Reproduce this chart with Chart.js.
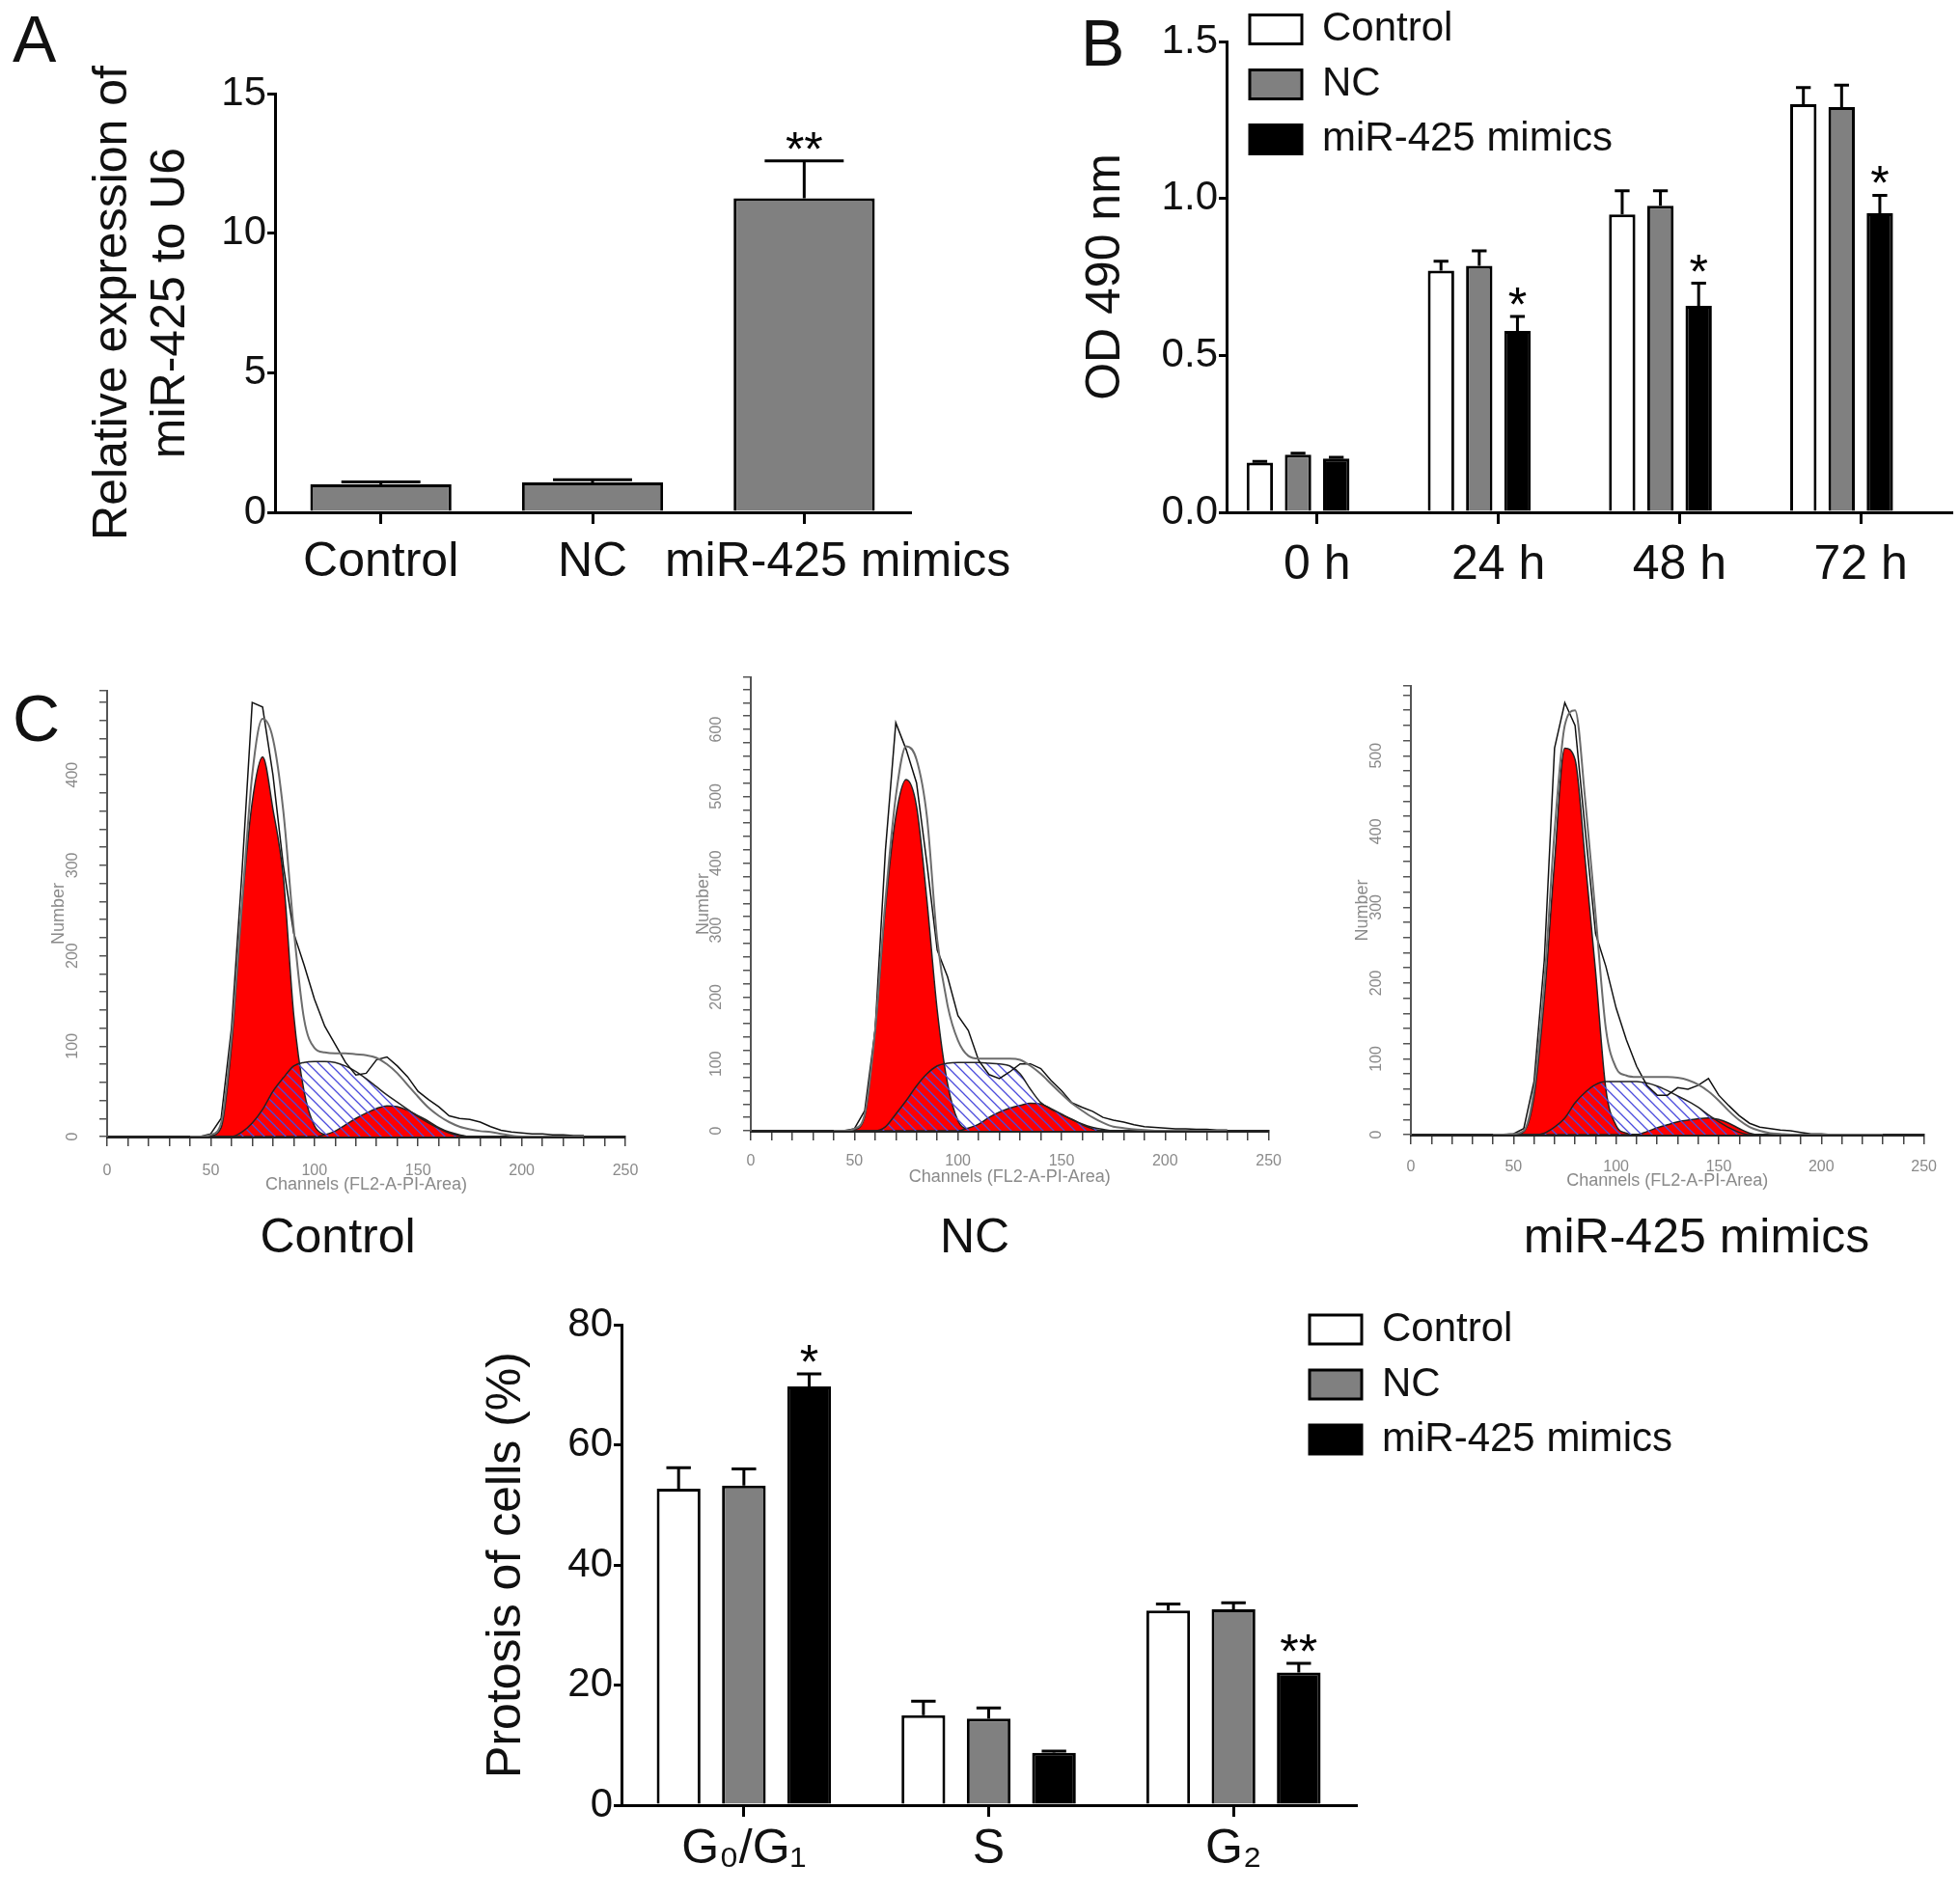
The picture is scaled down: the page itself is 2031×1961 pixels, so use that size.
<!DOCTYPE html>
<html>
<head>
<meta charset="utf-8">
<title>miR-425 figure</title>
<script src="https://cdn.jsdelivr.net/npm/chart.js@4.4.1/dist/chart.umd.min.js"></script>
<style>
  body { margin: 0; background: #fff; }
  #wrap { position: relative; width: 2031px; height: 1961px; overflow: hidden; background: #fff; }
  canvas { position: absolute; }
  .letter { position: absolute; font: 68px/1 "Liberation Sans", Arial, sans-serif; color: #111; }
  .hlabel { position: absolute; top: 1251px; font: 50px/60px "Liberation Sans", Arial, sans-serif; color: #111;
            transform: translateX(-50%); white-space: nowrap; }
</style>
</head>
<body>
<div id="wrap">
  <div class="letter" style="left:13px;top:6px">A</div>
  <div class="letter" style="left:1120px;top:10px">B</div>
  <div class="letter" style="left:13px;top:710px">C</div>
  <canvas id="chartA" width="1110" height="650" style="left:0;top:0"></canvas>
  <canvas id="chartB" width="951" height="650" style="left:1080px;top:0"></canvas>
  <canvas id="histControl" width="680" height="600" style="left:10px;top:650px"></canvas>
  <canvas id="histNC" width="660" height="600" style="left:680px;top:650px"></canvas>
  <canvas id="histMimics" width="626" height="600" style="left:1395px;top:650px"></canvas>
  <div class="hlabel" style="left:350px">Control</div>
  <div class="hlabel" style="left:1010px">NC</div>
  <div class="hlabel" style="left:1758px">miR-425 mimics</div>
  <canvas id="chartD" width="1651" height="641" style="left:380px;top:1320px"></canvas>
</div>
<script>
// ---- panel A: relative expression
const groupsA = ['Control', 'NC', 'miR-425 mimics'];
const exprA = [1.0, 1.07, 11.25];
const exprErrA = [0.09, 0.1, 1.34];
const starsA = ['', '', '**'];

// ---- panel B: OD 490 nm over time
const timesB = ['0 h', '24 h', '48 h', '72 h'];
const odControl = [0.158, 0.77, 0.949, 1.30];
const odControlErr = [0.004, 0.03, 0.075, 0.053];
const odNC = [0.184, 0.785, 0.977, 1.291];
const odNCErr = [0.004, 0.048, 0.047, 0.07];
const odMimics = [0.171, 0.578, 0.658, 0.953];
const odMimicsErr = [0.004, 0.046, 0.072, 0.057];
const starsB = ['', '*', '*', '*'];

// ---- panel C: flow cytometry histograms (channel vs number)
const histCh = [40, 45, 50, 55, 60, 65, 70, 75, 80, 85, 90, 95, 100, 105, 110, 115, 120, 125, 130,
  135, 140, 145, 150, 155, 160, 165, 170, 175, 180, 185, 190, 195, 200, 205, 210, 215, 220, 225, 230];

const ctrlG1 = [0,0,1,10,100, 254,370,420,362,287, 135,50,12,2,0, 0,0,0,0,0, 0,0,0,0,0, 0,0,0,0,0, 0,0,0,0,0, 0,0,0,0];
const ctrlS = [0,0,0,0,0, 5,15,30,50,65, 78,82,83,83,82, 78,72,64,55,46, 38,30,22,15,9, 4,1,0,0,0, 0,0,0,0,0, 0,0,0,0];
const ctrlG2 = [0,0,0,0,0, 0,0,0,0,0, 0,0,0,2,6, 13,20,26,31,34, 33,29,23,17,10, 5,2,0,0,0, 0,0,0,0,0, 0,0,0,0];
const ctrlFit = [0,0,2,15,110, 255,400,462,440,360, 230,130,98,93,92, 92,91,90,87,80, 70,57,44,32,23, 16,11,8,6,5, 3,1,0,0,0, 0,0,0,0];
const ctrlRaw = [0,0,3,20,120, 290,480,475,400,300, 225,190,152,122,102, 82,68,70,85,88, 78,66,50,41,33, 23,20,19,16,11, 7,5,4,3,3, 2,2,1,1];

const ncG1 = [0,0,2,22,150, 335,470,525,485,345, 180,70,15,2,0, 0,0,0,0,0, 0,0,0,0,0, 0,0,0,0,0, 0,0,0,0,0, 0,0,0,0];
const ncS = [0,0,0,0,0, 6,25,45,67,85, 97,101,102,102,102, 101,100,97,85,62, 42,33,25,17,10, 5,2,0,0,0, 0,0,0,0,0, 0,0,0,0];
const ncG2 = [0,0,0,0,0, 0,0,0,0,0, 0,0,0,4,10, 20,28,34,38,41, 40,32,24,17,9, 3,0,0,0,0, 0,0,0,0,0, 0,0,0,0];
const ncFit = [0,0,3,25,150, 345,500,575,555,470, 285,187,135,112,108, 108,108,108,106,97, 85,70,55,41,30, 20,12,6,4,2, 1,0,0,0,0, 0,0,0,0];
const ncRaw = [0,0,3,30,150, 420,610,570,520,400, 270,230,172,150,105, 84,78,88,100,100, 93,75,60,42,35, 29,20,16,13,9, 6,5,4,3,3, 2,2,1,1];

const mimG1 = [0,0,0,4,50, 180,360,510,495,360, 215,60,12,2,0, 0,0,0,0,0, 0,0,0,0,0, 0,0,0,0,0, 0,0,0,0,0, 0,0,0,0];
const mimS = [0,0,0,0,0, 2,10,22,42,56, 66,70,70,70,70, 68,64,58,51,44, 36,26,17,9,3, 0,0,0,0,0, 0,0,0,0,0, 0,0,0,0];
const mimG2 = [0,0,0,0,0, 0,0,0,0,0, 0,0,0,0,0, 4,9,13,17,19, 21,22,20,15,8, 2,0,0,0,0, 0,0,0,0,0, 0,0,0,0];
const mimFit = [0,0,1,5,60, 200,400,540,560,440, 290,140,88,78,76, 76,76,76,75,72, 66,57,45,31,19, 10,5,2,1,0, 0,0,0,0,0, 0,0,0,0];
const mimRaw = [0,0,1,8,70, 230,510,570,540,400, 265,222,167,125,90, 65,52,52,62,60, 65,74,52,38,25, 15,10,8,6,5, 3,1,1,0,0, 0,0,0,0];

// ---- panel C bottom: cell cycle distribution
const phases = ['G\u2080/G\u2081', 'S', 'G\u2082'];
const pctControl = [52.7, 15.0, 32.4];
const pctControlErr = [3.5, 2.3, 1.1];
const pctNC = [53.2, 14.4, 32.6];
const pctNCErr = [2.8, 1.8, 1.1];
const pctMimics = [69.7, 8.7, 22.1];
const pctMimicsErr = [2.1, 0.3, 1.5];
const starsD = ['*', '', '**'];

const FONT = '"Liberation Sans", Arial, sans-serif';
Chart.defaults.font.family = FONT;
Chart.defaults.color = '#111';

// error bars (upper only) + significance stars
const errorBars = {
  id: 'errorBars',
  afterDatasetsDraw(chart) {
    const ctx = chart.ctx;
    const y = chart.scales.y;
    chart.data.datasets.forEach((ds, i) => {
      if (!ds.errors) return;
      chart.getDatasetMeta(i).data.forEach((bar, j) => {
        const top = y.getPixelForValue(ds.data[j] + ds.errors[j]);
        const half = bar.width * 0.28;
        ctx.save();
        ctx.strokeStyle = '#000';
        ctx.lineWidth = 3;
        ctx.beginPath();
        ctx.moveTo(bar.x, bar.y);
        ctx.lineTo(bar.x, top);
        ctx.moveTo(bar.x - half, top);
        ctx.lineTo(bar.x + half, top);
        ctx.stroke();
        if (ds.stars && ds.stars[j]) {
          ctx.fillStyle = '#000';
          ctx.font = '50px ' + FONT;
          ctx.textAlign = 'center';
          ctx.textBaseline = 'alphabetic';
          ctx.fillText(ds.stars[j], bar.x, top + 5);
        }
        ctx.restore();
      });
    });
  }
};

// move a chartArea legend to where the figure has it
const legendShift = {
  id: 'legendShift',
  afterLayout(chart, args, opts) {
    const lg = chart.legend;
    if (!lg || !opts) return;
    const dx = opts.dx || 0, dy = opts.dy || 0;
    lg.left += dx; lg.right += dx;
    lg.top += dy; lg.bottom += dy;
  }
};

const fixW = w => (s) => { s.width = w; };
const fixH = h => (s) => { s.height = h; };

function barX(height, pad, fmt) {
  const ticks = { padding: pad, color: '#111', font: { size: 50 }, autoSkip: false, minRotation: 0, maxRotation: 0 };
  if (fmt) ticks.callback = fmt;
  return {
    z: 1,
    afterFit: fixH(height),
    border: { display: true, color: '#000', width: 3 },
    grid: { display: true, offset: false, drawOnChartArea: false, tickLength: 12, color: '#000', lineWidth: 3 },
    ticks: ticks
  };
}

function barY(width, max, step, titleText, titlePad, fmt) {
  return {
    min: 0, max: max,
    afterFit: fixW(width),
    border: { display: true, color: '#000', width: 3 },
    grid: { display: true, drawOnChartArea: false, tickLength: 8, color: '#000', lineWidth: 3 },
    ticks: { stepSize: step, padding: 1, color: '#111', font: { size: 42 }, callback: fmt },
    title: { display: true, text: titleText, color: '#111', font: { size: 50, lineHeight: 1.2 }, padding: { top: titlePad, bottom: 0 } }
  };
}

const baseOpts = { responsive: false, animation: false, events: [] };

// ---------- A
// the long last label sits a little right of its tick in the figure, clear of "NC"
const labelA = function (v, i) {
  const text = this.getLabelForValue(v);
  return i === groupsA.length - 1 ? '     ' + text : text;
};

new Chart(document.getElementById('chartA'), {
  type: 'bar',
  data: {
    labels: groupsA,
    datasets: [{
      data: exprA, errors: exprErrA, stars: starsA,
      backgroundColor: '#808080', borderColor: '#000', borderWidth: 3,
      barPercentage: 0.667, categoryPercentage: 1
    }]
  },
  options: Object.assign({}, baseOpts, {
    layout: { padding: { left: 0, top: 97, right: 167, bottom: 0 } },
    plugins: { legend: { display: false }, tooltip: { enabled: false } },
    scales: {
      x: barX(119, 10, labelA),
      y: barY(285, 15, 5, ['Relative expression of', 'miR-425 to U6'], 87, v => v)
    }
  }),
  plugins: [errorBars]
});

// ---------- B
const legendLabels = {
  boxWidth: 54, boxHeight: 30, padding: 15, color: '#111', font: { size: 42 },
  filter: item => item.text !== ''
};

new Chart(document.getElementById('chartB'), {
  type: 'bar',
  data: {
    labels: timesB,
    datasets: [
      { label: 'Control', data: odControl, errors: odControlErr, backgroundColor: '#ffffff' },
      { label: 'NC', data: odNC, errors: odNCErr, backgroundColor: '#808080' },
      { label: 'miR-425 mimics', data: odMimics, errors: odMimicsErr, stars: starsB, backgroundColor: '#000000' },
      // empty fourth slot: the figure leaves one free slot after each group
      { label: '', data: [], backgroundColor: 'rgba(0,0,0,0)' }
    ].map(d => Object.assign(d, { borderColor: '#000', borderWidth: 3, barPercentage: 0.69, categoryPercentage: 0.844 }))
  },
  options: Object.assign({}, baseOpts, {
    layout: { padding: { left: 0, top: 43, right: 9, bottom: 0 } },
    plugins: {
      legend: { position: 'chartArea', align: 'start', labels: legendLabels },
      legendShift: { dx: 9, dy: -5.5 },
      tooltip: { enabled: false }
    },
    scales: {
      x: barX(119, 13),
      y: barY(191, 1.5, 0.5, 'OD 490 nm', 36, v => v.toFixed(1))
    }
  }),
  plugins: [errorBars, legendShift]
});

// ---------- C histograms
const hatchCanvas = document.createElement('canvas');
hatchCanvas.width = 11; hatchCanvas.height = 11;
const hc = hatchCanvas.getContext('2d');
hc.strokeStyle = '#4b4bdc';
hc.lineWidth = 1.3;
hc.beginPath();
hc.moveTo(-1, -1); hc.lineTo(12, 12);
hc.moveTo(-1, 10); hc.lineTo(1, 12);
hc.moveTo(10, -1); hc.lineTo(12, 1);
hc.stroke();
const hatch = hc.createPattern(hatchCanvas, 'repeat');

function pts(arr) {
  return histCh.map((c, i) => ({ x: c, y: arr[i] }));
}

function histogram(id, g1, s, g2, fit, raw, box) {
  new Chart(document.getElementById(id), {
    type: 'line',
    data: {
      datasets: [
        { label: 'fit', data: pts(fit), borderColor: '#6c6c6c', borderWidth: 2, fill: false, cubicInterpolationMode: 'monotone' },
        { label: 'raw', data: pts(raw), borderColor: '#111', borderWidth: 1.5, fill: false, tension: 0 },
        { label: 'S', data: pts(s), borderColor: '#222', borderWidth: 1.5, backgroundColor: hatch, fill: 'origin', cubicInterpolationMode: 'monotone' },
        { label: 'G2', data: pts(g2), borderColor: '#222', borderWidth: 1.5, backgroundColor: '#ff0000', fill: 'origin', cubicInterpolationMode: 'monotone' },
        { label: 'G1', data: pts(g1), borderColor: '#222', borderWidth: 1.5, backgroundColor: '#ff0000', fill: 'origin', cubicInterpolationMode: 'monotone' }
      ]
    },
    options: Object.assign({}, baseOpts, {
      elements: { point: { radius: 0 } },
      layout: { padding: { left: 0, top: box.top, right: box.right, bottom: 0 } },
      plugins: { legend: { display: false }, tooltip: { enabled: false } },
      scales: {
        x: {
          type: 'linear', min: 0, max: 250, z: 1,
          afterFit: fixH(box.xh),
          border: { display: true, color: '#222', width: 3 },
          grid: { display: true, drawOnChartArea: false, tickLength: 10, color: '#444', lineWidth: 1.5 },
          ticks: { stepSize: 10, autoSkip: false, maxTicksLimit: 100, maxRotation: 0, padding: box.xpad, color: '#8a8a8a', font: { size: 16 },
            callback: v => (v % 50 === 0 ? v : '') },
          title: { display: true, text: 'Channels (FL2-A-PI-Area)', color: '#8a8a8a', font: { size: 18, lineHeight: 1.2 }, padding: { top: 0, bottom: box.tpad } }
        },
        y: {
          min: 0, max: box.ymax, bounds: 'data',
          afterFit: fixW(box.yw),
          border: { display: true, color: '#555', width: 2 },
          grid: { display: true, drawOnChartArea: false, tickLength: 8, color: '#555', lineWidth: 1.5 },
          ticks: { stepSize: 20, includeBounds: false, autoSkip: false, maxTicksLimit: 100, minRotation: 90, maxRotation: 90,
            crossAlign: 'center', padding: 14, color: '#8a8a8a', font: { size: 16 },
            callback: v => (v % 100 === 0 ? v : '') },
          title: { display: true, text: 'Number', color: '#8a8a8a', font: { size: 18, lineHeight: 1.2 }, padding: { top: box.ytpad, bottom: 0 } }
        }
      }
    })
  });
}

histogram('histControl', ctrlG1, ctrlS, ctrlG2, ctrlFit, ctrlRaw,
  { top: 66, right: 42, xh: 72, yw: 101, ymax: 493, xpad: 16, tpad: 11, ytpad: 40 });
histogram('histNC', ncG1, ncS, ncG2, ncFit, ncRaw,
  { top: 52, right: 22, xh: 78, yw: 98, ymax: 678, xpad: 12, tpad: 19, ytpad: 38 });
histogram('histMimics', mimG1, mimS, mimG2, mimFit, mimRaw,
  { top: 61, right: 20, xh: 74, yw: 67, ymax: 592, xpad: 14, tpad: 15, ytpad: 6 });

// ---------- C bottom: phase distribution
new Chart(document.getElementById('chartD'), {
  type: 'bar',
  data: {
    labels: phases,
    datasets: [
      { label: 'Control', data: pctControl, errors: pctControlErr, backgroundColor: '#ffffff' },
      { label: 'NC', data: pctNC, errors: pctNCErr, backgroundColor: '#808080' },
      { label: 'miR-425 mimics', data: pctMimics, errors: pctMimicsErr, stars: starsD, backgroundColor: '#000000' }
    ].map(d => Object.assign(d, { borderColor: '#000', borderWidth: 3, barPercentage: 0.67, categoryPercentage: 0.8 }))
  },
  options: Object.assign({}, baseOpts, {
    layout: { padding: { left: 0, top: 53, right: 626, bottom: 0 } },
    plugins: {
      legend: { position: 'chartArea', align: 'start', labels: legendLabels },
      legendShift: { dx: 698, dy: 22 },
      tooltip: { enabled: false }
    },
    scales: {
      x: barX(90, 4),
      y: barY(264, 80, 20, 'Protosis of cells (%)', 115, v => v)
    }
  }),
  plugins: [errorBars, legendShift]
});
</script>
</body>
</html>
